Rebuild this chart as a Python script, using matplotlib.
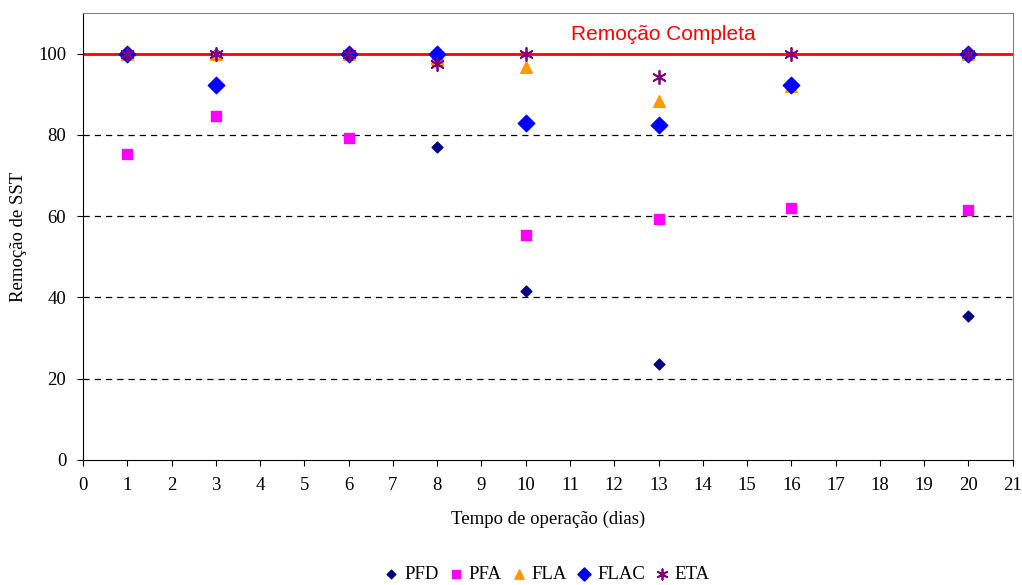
import matplotlib.pyplot as plt

# Remoção de SST por sistema ao longo do tempo
dias_pfd = [1, 3, 6, 8, 10, 13, 16, 20]
pfd = [100, 100, 100, 77.1, 41.5, 23.6, 92, 35.4]

dias = [1, 3, 6, 8, 10, 13, 16, 20]
pfa = [75.4, 84.7, 79.3, 98.3, 55.4, 59.2, 62.0, 61.5]
fla = [100, 100, 100, 99.0, 96.6, 88.2, 92.0, 100]
flac = [100, 92.2, 100, 100, 83.0, 82.5, 92.2, 100]
eta = [100, 100, 100, 97.5, 100, 94.3, 100, 100]

serif = ['Liberation Serif', 'DejaVu Serif']

fig = plt.figure(figsize=(10.22, 5.85), dpi=100)
ax = fig.add_axes([0.0812, 0.2137, 0.9097, 0.7643])

for y in [20, 40, 60, 80]:
    ax.axhline(y, color='black', linestyle=(0, (5, 4)), linewidth=0.9, zorder=1)
ax.axhline(100, color='red', linewidth=2, zorder=2)

ax.scatter(dias_pfd, pfd, marker='D', s=30, color='#000080', label='PFD', zorder=3)
ax.scatter(dias, pfa, marker='s', s=50, color='#FF00FF', label='PFA', zorder=3)
ax.scatter(dias, fla, marker='^', s=70, color='#FF9900', label='FLA', zorder=3)
ax.scatter(dias, flac, marker='D', s=70, color='#0000FF', label='FLAC', zorder=4)
ax.scatter(dias, eta, marker=(6, 2, 0), s=90, color='#800080', linewidths=1.3,
           label='ETA', zorder=5)

ax.text(13.1, 104.8, 'Remoção Completa', color='red', fontsize=15,
        ha='center', va='center', family=['Liberation Sans', 'DejaVu Sans'])

ax.set_xlim(0, 21)
ax.set_ylim(0, 110)
ax.set_xticks(range(0, 22))
ax.set_yticks(range(0, 101, 20))
ax.tick_params(direction='out', length=4, labelsize=13.5)
ax.tick_params(axis='x', pad=8)
ax.tick_params(axis='y', pad=8)
for lbl in ax.get_xticklabels() + ax.get_yticklabels():
    lbl.set_family(serif)
for side in ['top', 'right']:
    ax.spines[side].set_color('#808080')

ax.set_xlabel('Tempo de operação (dias)', fontsize=13.5, family=serif, labelpad=12)
ax.set_ylabel('Remoção de SST', fontsize=13.5, family=serif, labelpad=8)

fig.legend(loc='lower center', bbox_to_anchor=(0.535, -0.025), ncol=5, frameon=False,
           handlelength=0.8, handletextpad=0.3, columnspacing=0.5, markerscale=0.8,
           prop={'family': serif, 'size': 13.5})

fig.savefig('out.png', dpi=100)
